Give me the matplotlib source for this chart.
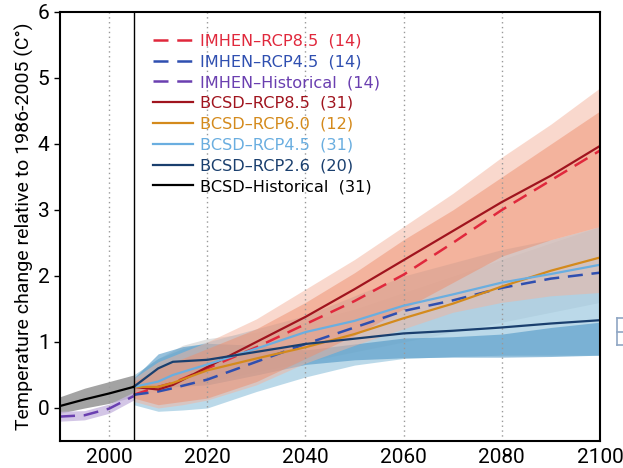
import matplotlib
matplotlib.use('Agg')
import matplotlib.pyplot as plt
from matplotlib.lines import Line2D

# historical period
hist_years = [1990, 1995, 2000, 2005]
bcsd_hist = [0.03, 0.13, 0.22, 0.32]
bcsd_hist_lo = [-0.08, 0.0, 0.07, 0.17]
bcsd_hist_hi = [0.17, 0.30, 0.40, 0.50]
imhen_hist = [-0.13, -0.11, -0.01, 0.18]
imhen_hist_lo = [-0.20, -0.18, -0.08, 0.12]
imhen_hist_hi = [-0.05, -0.04, 0.06, 0.24]

# projections (lines)
years = [2005, 2010, 2013, 2020, 2030, 2040, 2050, 2060, 2070, 2080, 2090, 2100]
bcsd_85 = [0.32, 0.28, 0.35, 0.62, 1.00, 1.38, 1.80, 2.24, 2.68, 3.12, 3.52, 3.97]
imhen_85 = [0.20, 0.32, 0.38, 0.60, 0.92, 1.27, 1.62, 2.02, 2.50, 3.00, 3.45, 3.90]
bcsd_60 = [0.32, 0.32, 0.38, 0.57, 0.75, 0.92, 1.12, 1.36, 1.58, 1.84, 2.08, 2.28]
bcsd_45 = [0.32, 0.40, 0.50, 0.66, 0.90, 1.15, 1.32, 1.55, 1.72, 1.90, 2.03, 2.17]
bcsd_26 = [0.32, 0.60, 0.70, 0.73, 0.85, 0.97, 1.05, 1.13, 1.17, 1.22, 1.28, 1.33]
imhen_45 = [0.20, 0.25, 0.30, 0.43, 0.70, 0.97, 1.22, 1.47, 1.63, 1.82, 1.96, 2.05]

# projections (ranges)
band_years = [2005, 2010, 2015, 2020, 2030, 2040, 2050, 2060, 2070, 2080, 2090, 2100]
imhen_85_hi = [0.45, 0.70, 0.85, 1.00, 1.35, 1.80, 2.25, 2.75, 3.25, 3.80, 4.30, 4.85]
imhen_85_lo = [0.10, 0.00, 0.05, 0.12, 0.35, 0.68, 0.95, 1.20, 1.45, 1.60, 1.70, 1.75]
bcsd_85_hi = [0.40, 0.60, 0.75, 0.90, 1.20, 1.60, 2.05, 2.55, 3.00, 3.50, 4.00, 4.50]
bcsd_85_lo = [0.15, 0.05, 0.10, 0.15, 0.40, 0.75, 1.10, 1.50, 1.90, 2.30, 2.55, 2.75]
rcp60_hi = [0.50, 0.75, 0.95, 1.05, 1.15, 1.30, 1.50, 1.75, 2.00, 2.25, 2.50, 2.75]
rcp60_lo = [0.20, 0.25, 0.30, 0.40, 0.55, 0.70, 0.85, 1.00, 1.15, 1.30, 1.45, 1.60]
rcp45_hi = [0.50, 0.75, 0.90, 1.00, 1.20, 1.40, 1.70, 2.00, 2.20, 2.40, 2.55, 2.75]
rcp45_lo = [0.05, -0.05, -0.03, 0.00, 0.25, 0.47, 0.65, 0.75, 0.78, 0.80, 0.80, 0.80]
rcp26_hi = [0.45, 0.82, 0.93, 0.98, 0.95, 0.88, 0.97, 1.06, 1.08, 1.12, 1.22, 1.30]
rcp26_lo = [0.25, 0.30, 0.33, 0.35, 0.50, 0.66, 0.73, 0.76, 0.77, 0.77, 0.78, 0.80]

fig = plt.figure(figsize=(6.23, 4.68), dpi=100)
ax = fig.add_axes([0.0963, 0.0577, 0.8667, 0.9167])

# shaded ranges
ax.fill_between(hist_years, bcsd_hist_lo, bcsd_hist_hi, color='#a3a3a3', lw=0)
ax.fill_between(hist_years, imhen_hist_lo, imhen_hist_hi, color='#c8b8e0', alpha=0.8, lw=0)
ax.fill_between(band_years, rcp60_lo, rcp60_hi, color='#bdbdbd', alpha=0.45, lw=0)
ax.fill_between(band_years, rcp45_lo, rcp45_hi, color='#9ecae1', alpha=0.7, lw=0)
ax.fill_between(band_years, rcp26_lo, rcp26_hi, color='#4f97c6', alpha=0.6, lw=0)
ax.fill_between(band_years, imhen_85_lo, imhen_85_hi, color='#f4b39c', alpha=0.5, lw=0)
ax.fill_between(band_years, bcsd_85_lo, bcsd_85_hi, color='#ee8f6e', alpha=0.5, lw=0)

# grid and 2005 marker
for x in [2000, 2020, 2040, 2060, 2080]:
    ax.axvline(x, color='#999999', lw=1, ls=(0, (1, 2.5)), zorder=1)
ax.axvline(2005, color='black', lw=1, zorder=3)

dash = (0, (6, 3.5))
ax.plot(years, imhen_85, color='#e0283c', lw=1.8, ls=dash, label='IMHEN–RCP8.5  (14)')
ax.plot(years, imhen_45, color='#2f4fb0', lw=1.8, ls=dash, label='IMHEN–RCP4.5  (14)')
ax.plot(hist_years, imhen_hist, color='#6a3fb0', lw=1.8, ls=dash, label='IMHEN–Historical  (14)')
ax.plot(years, bcsd_85, color='#a0141e', lw=1.6, label='BCSD–RCP8.5  (31)')
ax.plot(years, bcsd_60, color='#d48a1c', lw=1.6, label='BCSD–RCP6.0  (12)')
ax.plot(years, bcsd_45, color='#6aaee0', lw=1.6, label='BCSD–RCP4.5  (31)')
ax.plot(years, bcsd_26, color='#1a3f6e', lw=1.6, label='BCSD–RCP2.6  (20)')
ax.plot(hist_years, bcsd_hist, color='black', lw=1.6, label='BCSD–Historical  (31)')

leg = ax.legend(loc='upper left', bbox_to_anchor=(0.16, 0.965), frameon=False,
                fontsize=11.6, labelspacing=0.36, handlelength=2.5, handletextpad=0.4,
                labelcolor='linecolor', borderaxespad=0)

ax.set_xlim(1990, 2100)
ax.set_ylim(-0.5, 6)
ax.set_xticks([2000, 2020, 2040, 2060, 2080, 2100])
ax.set_yticks([0, 1, 2, 3, 4, 5, 6])
ax.tick_params(axis='x', length=0, pad=5, labelsize=15)
ax.tick_params(axis='y', length=4, width=1, labelsize=15)
for lab in ax.get_xticklabels() + ax.get_yticklabels():
    lab.set_family('Roboto')
for s in ax.spines.values():
    s.set_linewidth(1.5)
ax.set_ylabel('Temperature change relative to 1986-2005 (C°)', fontsize=14,
              family='Roboto', labelpad=3)

# piece of neighbouring panel at the right edge
c = '#8fa6c4'
fig.add_artist(Line2D([0.990, 0.990], [0.262, 0.320], color=c, lw=1.2))
for yy in [0.262, 0.291, 0.320]:
    fig.add_artist(Line2D([0.990, 1.0], [yy, yy], color=c, lw=1.2))

fig.savefig('out.png', dpi=100)
